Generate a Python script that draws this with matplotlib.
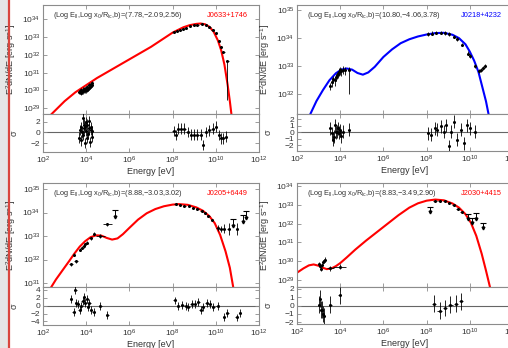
import numpy as np
import matplotlib
matplotlib.use("Agg")
import matplotlib.pyplot as plt
from matplotlib.patches import Rectangle
from matplotlib.lines import Line2D

plt.rcParams['font.family'] = ['Liberation Sans', 'DejaVu Sans']
plt.rcParams['mathtext.fontset'] = 'custom'
plt.rcParams['mathtext.rm'] = 'Liberation Sans'
plt.rcParams['mathtext.it'] = 'Liberation Sans'

# ---------------- J0633+1746 ----------------
# model curve (log E, log E^2 dN/dE)
m1_logE = [2.4, 2.5, 3.0, 3.5, 4.0, 4.5, 5.0, 5.5, 6.0, 6.5, 7.0, 7.5, 8.0, 8.5,
           8.8, 9.1, 9.3, 9.5, 9.7, 9.9, 10.1, 10.25, 10.4, 10.55, 10.65, 10.75]
m1_logF = [28.68, 28.8, 29.4, 29.9, 30.3, 30.7, 31.05, 31.4, 31.75, 32.1, 32.45, 32.85,
           33.25, 33.55, 33.67, 33.74, 33.76, 33.72, 33.58, 33.3, 32.8, 32.25, 31.45, 30.3, 29.4, 28.4]
x1_logE = [3.68, 3.72, 3.75, 3.78, 3.8, 3.83, 3.86, 3.88, 3.9, 3.93, 3.95, 3.98, 4.0,
           4.03, 4.06, 4.08, 4.11, 4.14, 4.17, 4.2, 4.23, 4.26, 4.29]
x1_logF = [29.9, 29.95, 29.85, 30.0, 29.95, 30.05, 29.95, 30.0, 30.1, 30.0, 30.05, 30.0, 30.15,
           30.05, 30.2, 30.1, 30.15, 30.3, 30.2, 30.25, 30.35, 30.3, 30.4]
g1_logE = [8.05, 8.2, 8.35, 8.5, 8.6, 8.8, 9.0, 9.15, 9.35, 9.55, 9.7, 9.85, 10.0,
           10.15, 10.25, 10.35, 10.54]
g1_logF = [33.3, 33.36, 33.42, 33.48, 33.53, 33.62, 33.68, 33.7, 33.72, 33.68, 33.58, 33.42, 33.2,
           32.8, 32.45, 32.15, 31.65]
g1_lo = [0.05] * 16 + [2.2]
r1x_logE = x1_logE
r1x_sig = [-1.0, 0.5, -1.5, 1.0, 0.0, 2.7, -0.5, 1.5, 0.8, -2.0, 1.2, 0.3, 2.0,
           -1.0, 1.5, -0.3, 0.8, 2.2, -1.8, 0.5, 1.0, -0.8, 0.2]
r1g_logE = [8.05, 8.15, 8.25, 8.4, 8.55, 8.7, 8.85, 9.0, 9.15, 9.3, 9.4, 9.55, 9.7,
            9.85, 10.0, 10.15, 10.25, 10.35, 10.48]
r1g_sig = [0.25, -0.5, 0.75, 0.75, 0.75, 0.1, -0.4, -0.4, -0.4, -0.4, -2.4, 0.1, 0.4,
           0.75, 1.1, -0.5, -1.1, -1.1, -0.8]

# ---------------- J0218+4232 ----------------
m2_logE = [2.6, 2.9, 3.2, 3.5, 3.8, 4.05, 4.3, 4.55, 4.8, 5.05, 5.3, 5.6, 6.0, 6.4,
           6.8, 7.2, 7.6, 8.0, 8.4, 8.8, 9.2, 9.5, 9.8, 10.0, 10.2, 10.4, 10.6, 10.75, 10.88]
m2_logF = [31.27, 31.76, 32.15, 32.5, 32.75, 32.88, 32.92, 32.88, 32.76, 32.7, 32.78, 32.98, 33.33, 33.6,
           33.82, 33.96, 34.06, 34.13, 34.18, 34.19, 34.12, 34.0, 33.78, 33.52, 33.2, 32.8, 32.2, 31.75, 31.25]
x2_logE = [3.55, 3.62, 3.68, 3.74, 3.8, 3.85, 3.9, 3.95, 4.0, 4.05, 4.12, 4.2, 4.43]
x2_logF = [32.3, 32.45, 32.55, 32.5, 32.62, 32.68, 32.72, 32.8, 32.85, 32.82, 32.88, 32.85, 32.85]
x2_lo = [0.15, 0.2, 0.15, 0.2, 0.15, 0.15, 0.15, 0.15, 0.15, 0.15, 0.15, 0.15, 0.85]
g2_logE = [8.08, 8.25, 8.45, 8.65, 8.85, 9.05, 9.25, 9.4, 9.65, 9.9, 10.0, 10.22, 10.42, 10.52,
           10.62, 10.72]
g2_logF = [34.13, 34.16, 34.18, 34.18, 34.17, 34.14, 34.04, 33.96, 33.76, 33.45, 33.35, 33.0, 32.82, 32.85,
           32.92, 33.0]
r2x_logE = [3.55, 3.62, 3.68, 3.72, 3.76, 3.8, 3.85, 3.9, 3.95, 4.0, 4.05, 4.12, 4.42]
r2x_sig = [0.6, -0.15, -1.2, -0.7, 1.1, 0.0, 0.1, 0.6, -0.1, 0.3, -0.6, 0.1, 0.35]
r2g_logE = [8.08, 8.22, 8.38, 8.5, 8.65, 8.8, 8.88, 9.05, 9.12, 9.28, 9.42, 9.58, 9.72, 9.88,
            10.0, 10.22]
r2g_sig = [-0.15, -0.4, 0.6, 0.35, 0.9, 0.1, 1.1, -2.2, 0.1, 1.6, -1.2, 0.35, -1.7, 1.1,
           0.6, 0.1]

# ---------------- J0205+6449 ----------------
m3_logE = [2.35, 2.6, 2.95, 3.2, 3.45, 3.7, 3.95, 4.2, 4.45, 4.7, 4.95, 5.2, 5.45, 5.7,
           6.0, 6.4, 6.8, 7.2, 7.6, 8.0, 8.3, 8.7, 9.1, 9.4, 9.7, 9.95, 10.2, 10.45, 10.65, 10.82]
m3_logF = [30.78, 31.15, 31.6, 31.92, 32.25, 32.55, 32.78, 32.95, 33.03, 33.02, 32.92, 32.85, 32.9, 33.08,
           33.35, 33.7, 33.97, 34.15, 34.27, 34.34, 34.36, 34.33, 34.22, 34.08, 33.85, 33.55, 33.05, 32.35, 31.65, 30.75]
x3_logE = [3.3, 3.45, 3.52, 3.72, 3.8, 3.9, 3.96, 4.05, 4.2, 4.38, 4.65, 4.98]
x3_logF = [31.8, 32.2, 31.92, 32.42, 32.5, 32.58, 32.65, 32.72, 32.9, 33.1, 33.0, 33.5]
x3_xerr = [0.1, 0.05, 0.1, 0.05, 0.05, 0.05, 0.05, 0.05, 0.05, 0.05, 0.2, 0.2]
g3_logE = [8.14, 8.35, 8.55, 8.75, 8.95, 9.15, 9.35, 9.5, 9.65, 9.82, 10.08, 10.22, 10.38,
           10.6, 10.98]
g3_logF = [34.36, 34.34, 34.3, 34.26, 34.2, 34.14, 34.07, 33.97, 33.85, 33.7, 33.35, 33.3, 33.32,
           33.3, 33.3]
g3_err = [0.03] * 10 + [0.12, 0.12, 0.2, 0.25, 0.25]
ul3_logE = [5.35, 10.8, 11.25, 11.42]
ul3_logF = [34.1, 33.72, 33.9, 34.05]
r3x_logE = [3.3, 3.42, 3.5, 3.55, 3.62, 3.7, 3.77, 3.83, 3.9, 3.96, 4.02, 4.08, 4.15,
            4.22, 4.35, 4.65, 4.98]
r3x_sig = [1.7, -1.5, 4.0, 0.7, 0.3, -1.0, -0.2, 1.1, 2.2, 0.7, 1.7, -0.3, 0.7,
           -1.0, -1.7, 0.0, -2.3]
r3g_logE = [8.1, 8.25, 8.45, 8.6, 8.73, 8.88, 9.04, 9.19, 9.3, 9.41, 9.57, 9.72, 9.88,
            10.08, 10.38, 10.54, 10.96, 11.12]
r3g_sig = [1.3, -0.2, 0.1, -0.2, -0.3, 0.3, 0.5, 0.9, -1.0, -0.3, 0.7, 0.3, -0.3,
           0.0, -2.8, -1.9, -3.0, -1.9]

# ---------------- J2030+4415 ----------------
m4_logE = [2.0, 2.3, 2.55, 2.77, 3.0, 3.2, 3.38, 3.6, 3.8, 4.0, 4.3, 4.7, 5.2, 5.7,
           6.2, 6.7, 7.2, 7.6, 8.0, 8.4, 8.8, 9.2, 9.5, 9.8, 10.05, 10.3, 10.55, 10.75, 10.95]
m4_logF = [29.39, 29.62, 29.78, 29.83, 29.76, 29.65, 29.58, 29.62, 29.74, 29.9, 30.2, 30.62, 31.1, 31.55,
           32.0, 32.45, 32.85, 33.08, 33.22, 33.28, 33.24, 33.07, 32.85, 32.5, 32.05, 31.35, 30.4, 29.5, 28.55]
x4_logE = [3.0, 3.07, 3.12, 3.17, 3.21, 3.25, 3.29, 3.55, 3.97]
x4_logF = [29.85, 29.75, 29.6, 29.8, 29.95, 30.0, 30.08, 29.62, 29.72]
x4_xerr = [0.04, 0.04, 0.04, 0.04, 0.04, 0.04, 0.04, 0.15, 0.3]
g4_logE = [8.38, 8.6, 8.85, 9.05, 9.25, 9.46, 9.62]
g4_logF = [33.2, 33.22, 33.18, 33.08, 32.98, 32.78, 32.6]
ul4_logE = [8.15, 9.9, 10.12, 10.3, 10.62]
ul4_logF = [32.9, 32.5, 32.3, 32.55, 32.05]
r4x_logE = [3.0, 3.07, 3.12, 3.17, 3.21, 3.25, 3.55, 3.97]
r4x_sig = [0.1, 0.8, -0.5, -0.5, -1.0, -1.3, 0.1, 1.2]
r4g_logE = [8.35, 8.6, 8.85, 9.1, 9.35, 9.6]
r4g_sig = [0.2, -0.6, -0.3, 0.1, 0.2, 0.5]

W, H = 508, 348
fig = plt.figure(figsize=(W / 100, H / 100), dpi=100)
fig.patch.set_facecolor('white')
fig.add_artist(Rectangle((0, 0), 8 / W, 1, transform=fig.transFigure, color='#e6e6e6', zorder=0))
fig.add_artist(Line2D([9 / W, 9 / W], [0, 1], transform=fig.transFigure, color='#d9463e', lw=1.6))

SPINE = '#8c8c8c'
TXT = '#333333'
FS = 6


def style(ax):
    for s in ax.spines.values():
        s.set_color(SPINE)
        s.set_linewidth(0.8)
    ax.tick_params(which='both', direction='in', top=True, right=True, colors=SPINE,
                   labelcolor=TXT, labelsize=FS, width=0.6, pad=2)
    ax.tick_params(which='major', length=3)
    ax.tick_params(which='minor', length=1.5)


def dec(v):
    return 10.0 ** np.asarray(v, dtype=float)


def panel(px, py_top, py_mid, py_bot, ylim, yticks, rlim, rticks, color, name, params,
          model, pts, uls, res):
    axm = fig.add_axes([px / W, 1 - py_mid / H, 216 / W, (py_mid - py_top) / H])
    axr = fig.add_axes([px / W, 1 - py_bot / H, 216 / W, (py_bot - py_mid) / H], sharex=axm)
    for ax in (axm, axr):
        ax.set_xscale('log')
        style(ax)
    axm.set_yscale('log')
    axm.set_xlim(1e2, 1e12)
    axm.set_ylim(dec(ylim[0]), dec(ylim[1]))
    axm.set_yticks(dec(yticks))
    axm.set_yticklabels([r'$10^{%d}$' % t for t in yticks])
    axm.yaxis.set_minor_locator(matplotlib.ticker.NullLocator())
    axm.tick_params(labelbottom=False)

    axm.plot(dec(model[0]), dec(model[1]), color=color, lw=1.5, zorder=2)
    for (le, lf, xe, lo, hi) in pts:
        le, lf = np.asarray(le), np.asarray(lf)
        y, x = dec(lf), dec(le)
        yerr = [y - dec(lf - np.asarray(lo)), dec(lf + np.asarray(hi)) - y]
        xerr = [x - dec(le - np.asarray(xe)), dec(le + np.asarray(xe)) - x]
        axm.errorbar(x, y, yerr=yerr, xerr=xerr, fmt='o', ms=1.2, color='black',
                     ecolor='black', elinewidth=0.6, capsize=0, zorder=3)
    if uls:
        for le, lf in zip(*uls):
            x, y = dec(le), dec(lf)
            axm.plot([x, x], [y, dec(lf - 0.28)], color='black', lw=0.7, zorder=3)
            axm.plot([x], [y], marker='_', ms=4, mew=0.8, color='black', zorder=3)
            axm.plot([x], [dec(lf - 0.28)], marker='v', ms=2.0, color='black', zorder=3)
    axm.text(0.045, 0.9, params, transform=axm.transAxes, fontsize=FS - 0.7, color=TXT, va='center')
    axm.text(0.95, 0.9, name, transform=axm.transAxes, fontsize=FS - 0.7, color=color,
             va='center', ha='right')
    axm.set_ylabel(r'E$^2$dN/dE [erg s$^{-1}$]', fontsize=FS + 0.5, color=TXT)

    axr.axhline(0, color='#666666', lw=0.8, zorder=1)
    for (le, sig, xe) in res:
        le = np.asarray(le)
        x = dec(le)
        axr.errorbar(x, sig, yerr=1.0, xerr=[x - dec(le - xe), dec(le + xe) - x],
                     fmt='o', ms=1.2, color='black', ecolor='black', elinewidth=0.6, capsize=0, zorder=3)
    axr.set_ylim(*rlim)
    axr.set_yticks(rticks)
    axr.set_yticklabels([('%d' % t).replace('-', '\u2212') for t in rticks])
    axr.set_xticks(dec([2, 4, 6, 8, 10, 12]))
    axr.set_xticklabels([r'$10^{%d}$' % t for t in [2, 4, 6, 8, 10, 12]])
    axr.xaxis.set_minor_locator(matplotlib.ticker.NullLocator())
    axr.set_xlabel('Energy [eV]', fontsize=FS + 0.5, color=TXT, labelpad=0.5)
    axr.set_ylabel('\u03c3', fontsize=FS + 0.5, color=TXT)
    axm.yaxis.set_label_coords(-0.115, 0.5)
    axr.yaxis.set_label_coords(-0.115, 0.5)


def z(n, v):
    return [v] * n


panel(43, 5, 114, 152, (28.68, 34.8), [29, 30, 31, 32, 33, 34], (-3.7, 3.5), [-2, 0, 2],
      'red', 'J0633+1746', r'(Log E$_{\Vert}$,Log x$_0$/R$_{\rm lc}$,b)=(7.78,$-$2.09,2.56)',
      (m1_logE, m1_logF),
      [(x1_logE, x1_logF, z(23, 0.03), z(23, 0.12), z(23, 0.12)),
       (g1_logE, g1_logF, z(17, 0.06), g1_lo, z(17, 0.05))],
      None,
      [(r1x_logE, r1x_sig, 0.02), (r1g_logE, r1g_sig, 0.06)])

panel(297, 5, 114, 151, (31.3, 35.18), [32, 33, 34, 35], (-2.9, 2.8), [-2, -1, 0, 1, 2],
      'blue', 'J0218+4232', r'(Log E$_{\Vert}$,Log x$_0$/R$_{\rm lc}$,b)=(10.80,$-$4.06,3.78)',
      (m2_logE, m2_logF),
      [(x2_logE, x2_logF, z(13, 0.03), x2_lo, z(13, 0.12)),
       (g2_logE, g2_logF, z(16, 0.04), z(16, 0.05), z(16, 0.08))],
      None,
      [(r2x_logE, r2x_sig, 0.03), (r2g_logE, r2g_sig, 0.05)])

panel(43, 183, 287, 325, (30.83, 35.26), [31, 32, 33, 34, 35], (-4.9, 4.7), [-4, -2, 0, 2, 4],
      'red', 'J0205+6449', r'(Log E$_{\Vert}$,Log x$_0$/R$_{\rm lc}$,b)=(8.88,$-$3.03,3.02)',
      (m3_logE, m3_logF),
      [(x3_logE, x3_logF, x3_xerr, z(12, 0.07), z(12, 0.07)),
       (g3_logE, g3_logF, z(15, 0.06), g3_err, g3_err)],
      (ul3_logE, ul3_logF),
      [(r3x_logE, r3x_sig, 0.06), (r3g_logE, r3g_sig, 0.06)])

panel(297, 183, 287, 324, (28.63, 34.16), [29, 30, 31, 32, 33, 34], (-2.2, 2.2), [-2, -1, 0, 1, 2],
      'red', 'J2030+4415', r'(Log E$_{\Vert}$,Log x$_0$/R$_{\rm lc}$,b)=(8.83,$-$3.49,2.90)',
      (m4_logE, m4_logF),
      [(x4_logE, x4_logF, x4_xerr, z(9, 0.12), z(9, 0.12)),
       (g4_logE, g4_logF, z(7, 0.08), z(7, 0.05), z(7, 0.05))],
      (ul4_logE, ul4_logF),
      [(r4x_logE, r4x_sig, 0.05), (r4g_logE, r4g_sig, 0.1)])

fig.savefig('out.png', dpi=100)
